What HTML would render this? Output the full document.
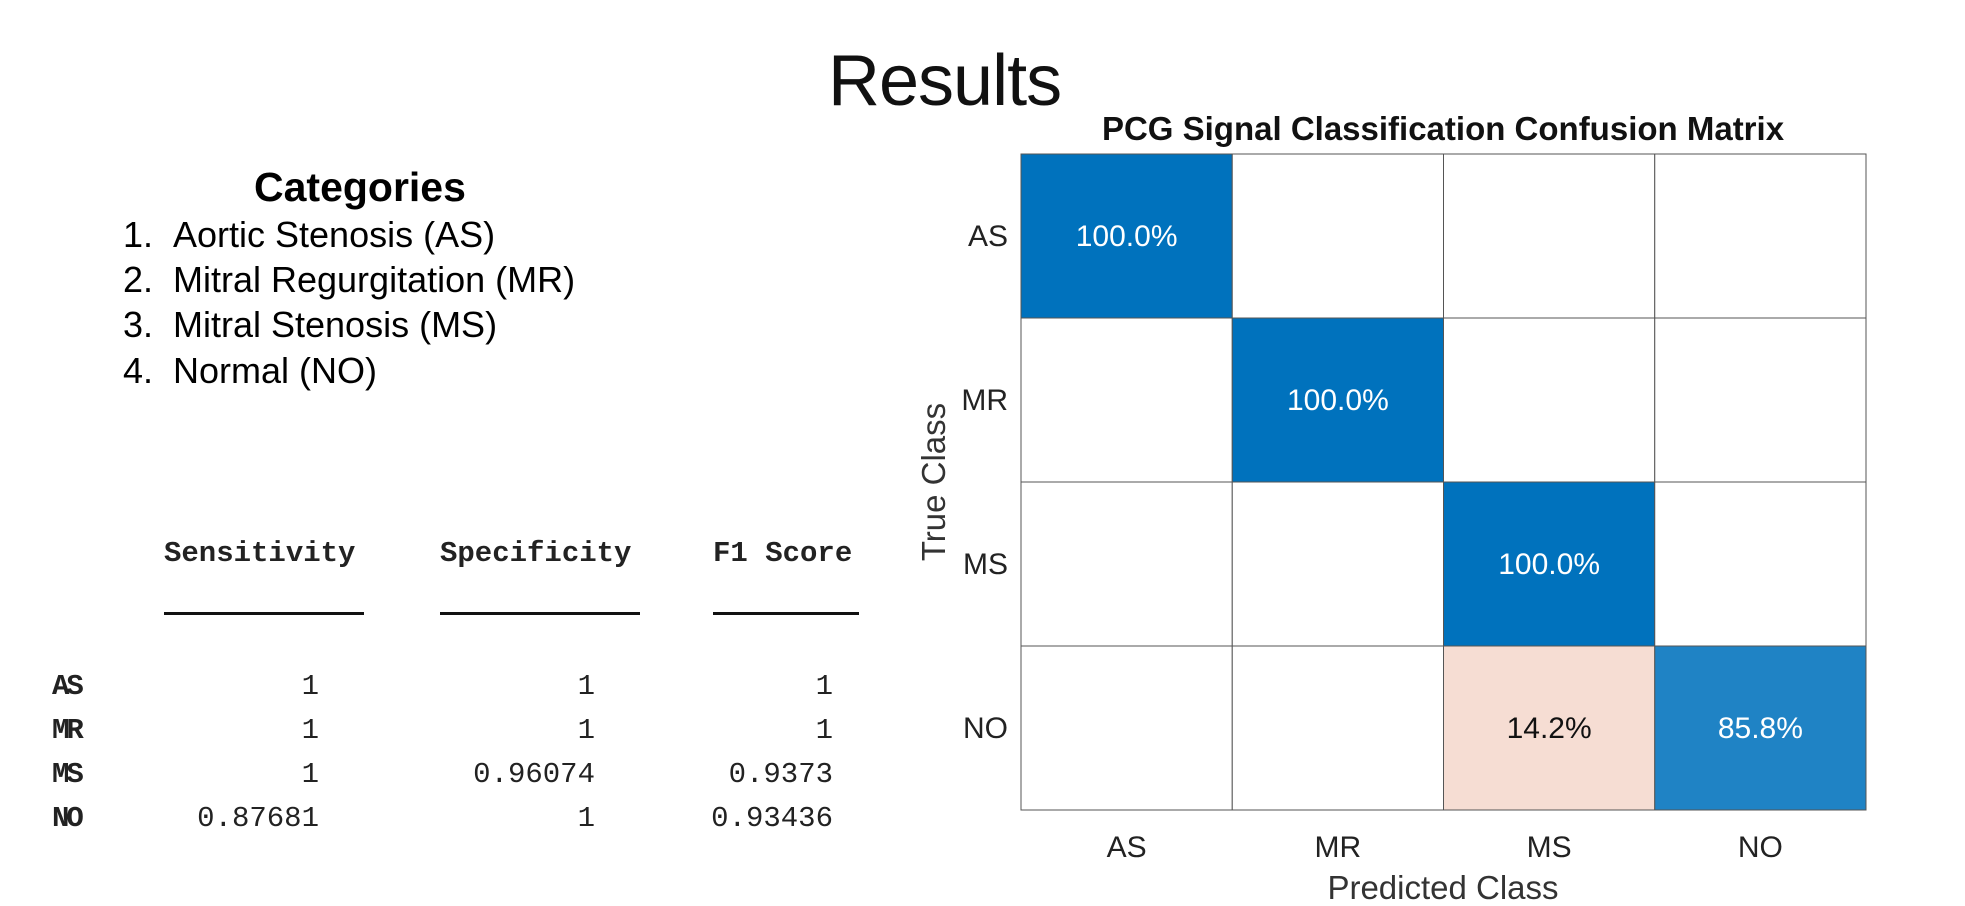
<!DOCTYPE html>
<html><head><meta charset="utf-8"><style>
body{margin:0;width:1965px;height:906px;background:#fff;overflow:hidden;position:relative;font-family:"Liberation Sans",sans-serif}
.a{position:absolute;white-space:nowrap}
.mono{font-family:"Liberation Mono",monospace;font-size:29px;color:#222}
</style></head><body>
<div class="a" style="left:828px;top:40px;font-size:72px;font-weight:300;color:#111;letter-spacing:-1px">Results</div>
<div class="a" style="left:254px;top:164px;font-size:41px;font-weight:bold">Categories</div>
<div>
<div class="a" style="left:123px;top:214px;font-size:36px">1.</div><div class="a" style="left:173px;top:214px;font-size:36px">Aortic Stenosis (AS)</div>
<div class="a" style="left:123px;top:259px;font-size:36px">2.</div><div class="a" style="left:173px;top:259px;font-size:36px">Mitral Regurgitation (MR)</div>
<div class="a" style="left:123px;top:304px;font-size:36px">3.</div><div class="a" style="left:173px;top:304px;font-size:36px">Mitral Stenosis (MS)</div>
<div class="a" style="left:123px;top:350px;font-size:36px">4.</div><div class="a" style="left:173px;top:350px;font-size:36px">Normal (NO)</div>
</div>
<div id="tbl"></div>
<svg id="cm" width="1965" height="906" style="position:absolute;left:0;top:0"></svg>
<script>
const classes=["AS","MR","MS","NO"];
const cellValues=[[100,0,0,0],[0,100,0,0],[0,0,100,0],[0,0,14.2,85.8]];
const metricNames=["Sensitivity","Specificity","F1 Score"];
const sensitivity=["1","1","1","0.87681"];
const specificity=["1","1","0.96074","1"];
const f1score=["1","1","0.9373","0.93436"];

const tbl=document.getElementById('tbl');
const colL=[164,440,713],colR=[319,595,833],colW=[200,200,146];
const cols=[sensitivity,specificity,f1score];
metricNames.forEach((m,i)=>{
 const h=document.createElement('div');h.className='a mono';h.style.cssText=`left:${colL[i]}px;top:537px;font-weight:bold`;h.textContent=m;
 
 tbl.appendChild(h);
 const u=document.createElement('div');u.className='a';u.style.cssText=`left:${colL[i]}px;top:612px;width:${colW[i]}px;height:3px;background:#111`;
 
 tbl.appendChild(u);
});
classes.forEach((c,r)=>{
 const y=670+r*44;
 const l=document.createElement('div');l.className='a mono';l.style.cssText=`left:52px;top:${y}px;font-weight:bold;letter-spacing:-3px`;l.textContent=c;
 
 tbl.appendChild(l);
 cols.forEach((arr,i)=>{
  const d=document.createElement('div');d.className='a mono';d.style.cssText=`right:${1965-colR[i]}px;top:${y}px`;d.textContent=arr[r];
  
  tbl.appendChild(d);
 });
});

const svg=document.getElementById('cm');const NS='http://www.w3.org/2000/svg';
const X0=1021,X1=1866,Y0=154,Y1=810;
const cw=(X1-X0)/classes.length,ch=(Y1-Y0)/classes.length;
const xs=j=>X0+j*cw, ys=i=>Y0+i*ch;
function mk(t,a,txt){const e=document.createElementNS(NS,t);for(const k in a)e.setAttribute(k,a[k]);if(txt!=null)e.textContent=txt;svg.appendChild(e);return e;}
function color(v,diag){
 if(v===0)return '#ffffff';
 if(diag){const t=v/100;const c0=[255,255,255],c1=[0,114,189];return `rgb(${c0.map((a,k)=>Math.round(a+(c1[k]-a)*Math.min(1,0.15+t*0.85))).join(',')})`;}
 const t=Math.min(1,v/100*7);const c1=[246,221,211];return `rgb(${c1.map(a=>Math.round(255+(a-255)*t)).join(',')})`;
}
cellValues.forEach((row,i)=>row.forEach((v,j)=>{
 const r=mk('rect',{x:xs(j),y:ys(i),width:cw,height:ch,fill:color(v,i===j),stroke:'#555','stroke-width':1});
 
 
 if(v>0){const t=mk('text',{x:xs(j)+cw/2,y:ys(i)+ch/2+10,'text-anchor':'middle','font-size':30,fill:(i===j&&v>50)?'#fff':'#111','font-family':'Liberation Sans'},v.toFixed(1)+'%');
 
 }
}));
classes.forEach((c,k)=>{
 const t1=mk('text',{x:1008,y:ys(k)+ch/2+10,'text-anchor':'end','font-size':30,fill:'#222','font-family':'Liberation Sans'},c);
 
 
 const t2=mk('text',{x:xs(k)+cw/2,y:857,'text-anchor':'middle','font-size':30,fill:'#222','font-family':'Liberation Sans'},c);
 
 
});
const tt=mk('text',{x:1443,y:140,'text-anchor':'middle','font-size':33,'font-weight':'bold',fill:'#111','font-family':'Liberation Sans'},'PCG Signal Classification Confusion Matrix');


const xt=mk('text',{x:1443,y:899,'text-anchor':'middle','font-size':33,fill:'#333','font-family':'Liberation Sans'},'Predicted Class');


const yt=mk('text',{x:0,y:0,'text-anchor':'middle','font-size':33,fill:'#333','font-family':'Liberation Sans',transform:'translate(945,482) rotate(-90)'},'True Class');


</script>
</body></html>
